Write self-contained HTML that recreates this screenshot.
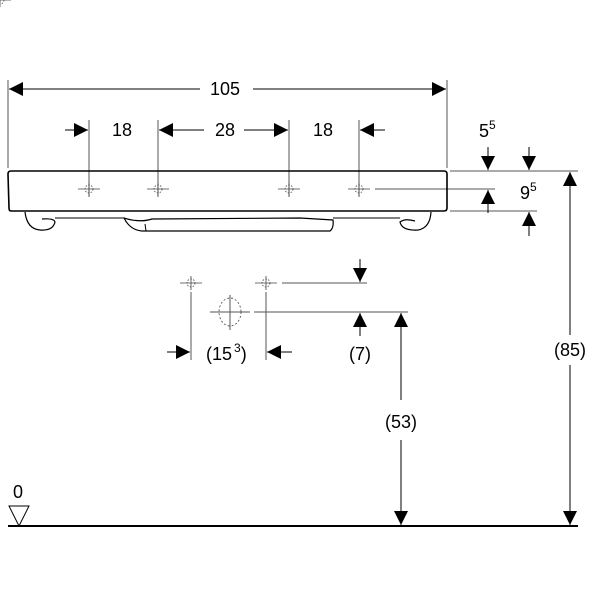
<!DOCTYPE html>
<html><head><meta charset="utf-8"><style>
html,body{margin:0;padding:0;background:#fff;}
svg{display:block;}
text{font-family:"Liberation Sans",sans-serif;font-size:18px;fill:#000;}
</style></head><body>
<svg width="600" height="600" viewBox="0 0 600 600" xmlns="http://www.w3.org/2000/svg">
<defs>
<marker id="a" viewBox="0 0 10 10" refX="10" refY="5" markerWidth="14" markerHeight="14" markerUnits="userSpaceOnUse" orient="auto"><path d="M0,0 L10,5 L0,10 z" fill="#000"/></marker>
</defs>
<g stroke="#555" stroke-width="1" fill="none">
<line x1="8" y1="80" x2="8" y2="168"/>
<line x1="447" y1="80" x2="447" y2="168"/>
<line x1="89" y1="120" x2="89" y2="197"/>
<line x1="158" y1="120" x2="158" y2="197"/>
<line x1="289" y1="120" x2="289" y2="197"/>
<line x1="359" y1="120" x2="359" y2="197"/>
<line x1="450" y1="171" x2="578" y2="171"/>
<line x1="375" y1="189" x2="495" y2="189"/>
<line x1="450" y1="211" x2="537" y2="211"/>
<line x1="282" y1="283" x2="367" y2="283"/>
<line x1="210" y1="312" x2="250" y2="312"/>
<line x1="254" y1="312" x2="408" y2="312"/>
<line x1="191" y1="292" x2="191" y2="360"/>
<line x1="266" y1="292" x2="266" y2="360"/>
<line x1="230" y1="295" x2="230" y2="330"/>
</g>
<g stroke="#000" stroke-width="1" fill="none">
<line x1="200" y1="89" x2="9" y2="89" marker-end="url(#a)"/>
<line x1="253" y1="89" x2="446" y2="89" marker-end="url(#a)"/>
<line x1="65" y1="130" x2="88" y2="130" marker-end="url(#a)"/>
<line x1="204" y1="130" x2="159" y2="130" marker-end="url(#a)"/>
<line x1="244" y1="130" x2="288" y2="130" marker-end="url(#a)"/>
<line x1="385" y1="130" x2="360" y2="130" marker-end="url(#a)"/>
<line x1="488" y1="147" x2="488" y2="170" marker-end="url(#a)"/>
<line x1="488" y1="213" x2="488" y2="190" marker-end="url(#a)"/>
<line x1="529" y1="147" x2="529" y2="170" marker-end="url(#a)"/>
<line x1="529" y1="236" x2="529" y2="212" marker-end="url(#a)"/>
<line x1="570" y1="335" x2="570" y2="172" marker-end="url(#a)"/>
<line x1="570" y1="365" x2="570" y2="525" marker-end="url(#a)"/>
<line x1="167" y1="352" x2="190" y2="352" marker-end="url(#a)"/>
<line x1="292" y1="352" x2="267" y2="352" marker-end="url(#a)"/>
<line x1="360" y1="259" x2="360" y2="282" marker-end="url(#a)"/>
<line x1="360" y1="336" x2="360" y2="313" marker-end="url(#a)"/>
<line x1="401" y1="400" x2="401" y2="313" marker-end="url(#a)"/>
<line x1="401" y1="440" x2="401" y2="525" marker-end="url(#a)"/>
<line x1="8" y1="526" x2="578" y2="526" stroke-width="2"/>
<path d="M9,506 L29,506 L19,526 Z"/>
<path d="M11,171 L444,171 Q447,171 447,174 L447,208 Q447,211 444,211 L11,211 Q9,211 9,208 L8,174 Q8,171 11,171 Z" stroke-width="1.6"/>
<path d="M25,212 Q27,229 40,230 Q53,231 55,222 Q54,218 42,219" stroke-width="1.2"/>
<line x1="55" y1="218" x2="125" y2="218" stroke-width="1"/>
<path d="M124,218 Q130,230 142,231 L330,231 Q334,228 333,220 L300,218 L152,219 Q140,223 124,218" stroke-width="1.2"/>
<line x1="145" y1="224" x2="146" y2="231" stroke-width="1"/>
<line x1="333" y1="218" x2="400" y2="218" stroke-width="1"/>
<path d="M431,212 Q430,228 418,230 Q402,231 400,222 Q405,218 415,221" stroke-width="1.2"/>
</g>
<g stroke="#444" stroke-width="0.8" fill="none">
<g id="c"><line x1="-11" y1="0" x2="11" y2="0"/><line x1="0" y1="-7" x2="0" y2="7"/><circle r="4" stroke-dasharray="1.5,1.5"/></g>
<use href="#c" x="89" y="189"/><use href="#c" x="158" y="189"/><use href="#c" x="289" y="189"/><use href="#c" x="359" y="189"/>
<use href="#c" x="191" y="283"/><use href="#c" x="266" y="283"/>
<ellipse cx="230" cy="312" rx="11" ry="14" stroke-dasharray="2,2"/>
</g>
<text x="225" y="95" text-anchor="middle">105</text>
<text x="122" y="136" text-anchor="middle">18</text>
<text x="225" y="136" text-anchor="middle">28</text>
<text x="323" y="136" text-anchor="middle">18</text>
<text x="479" y="137">5<tspan font-size="12" dy="-8">5</tspan></text>
<text x="520" y="199">9<tspan font-size="12" dy="-8">5</tspan></text>
<text x="570" y="356" text-anchor="middle">(85)</text>
<text x="401" y="428" text-anchor="middle">(53)</text>
<text x="360" y="360" text-anchor="middle">(7)</text>
<text x="206" y="360">(15<tspan font-size="12" dx="2" dy="-8">3</tspan><tspan dy="8">)</tspan></text>
<text x="13" y="498">0</text>
</svg>
</body></html>
